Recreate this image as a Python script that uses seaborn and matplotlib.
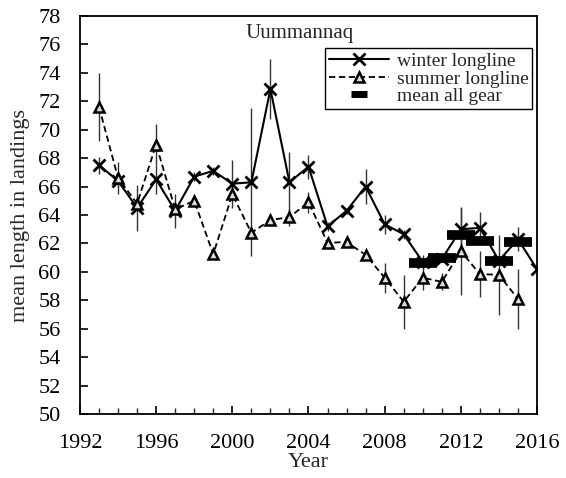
import numpy as np
import pandas as pd
import matplotlib
matplotlib.use("Agg")
import matplotlib.pyplot as plt
import matplotlib.ticker as mticker
import seaborn as sns

# ── Data ────────────────────────────────────────────────
winter_years = list(range(1993, 2017))
winter_mean = [67.5, 66.4, 64.5, 66.5, 64.3, 66.7, 67.1, 66.2, 66.3, 72.85, 66.3, 67.4,
               63.2, 64.3, 66.0, 63.35, 62.65, 60.7, 60.9, 63.0, 63.1, 60.8, 62.3, 60.2]
winter_err = [0.6, 0.4, 1.6, 1.0, 1.2, 0.3, 0.3, 1.7, 5.2, 2.1, 2.1, 0.85,
              0.3, 0.2, 1.2, 0.65, 0.3, 0.5, 0.2, 1.5, 1.1, 0.2, 0.85, 0.0]

summer_years = list(range(1993, 2016))
summer_mean = [71.6, 66.6, 64.8, 68.95, 64.4, 65.0, 61.25, 65.45, 62.75, 63.65, 63.85, 64.9,
               62.05, 62.1, 61.2, 59.6, 57.9, 59.6, 59.3, 61.45, 59.85, 59.8, 58.1]
summer_err = [2.4, 1.1, 0.3, 1.45, 0.3, 0.3, 0.3, 0.3, 0.3, 0.3, 0.6, 0.75,
              0.3, 0.2, 0.3, 1.05, 1.9, 0.9, 0.6, 3.1, 1.6, 2.8, 2.1]

gear_years = [2010, 2011, 2012, 2013, 2014, 2015]
gear_mean = [60.65, 61.0, 62.6, 62.2, 60.8, 62.1]

winter = pd.DataFrame({"year": winter_years, "length": winter_mean, "err": winter_err})
summer = pd.DataFrame({"year": summer_years, "length": summer_mean, "err": summer_err})
gear = pd.DataFrame({"year": gear_years, "length": gear_mean})

# ── Style ───────────────────────────────────────────────
sns.set_style("ticks")
plt.rcParams["font.family"] = ["Liberation Serif", "DejaVu Serif"]
plt.rcParams["xtick.direction"] = "in"
plt.rcParams["ytick.direction"] = "in"

fig = plt.figure(figsize=(5.66, 4.78), dpi=100)
ax = fig.add_axes([0.1413, 0.1333, 0.8075, 0.8337])

# error bars
ax.errorbar(winter["year"], winter["length"], yerr=winter["err"], fmt="none",
            ecolor="#333333", elinewidth=1.0, capsize=0, zorder=1)
ax.errorbar(summer["year"], summer["length"], yerr=summer["err"], fmt="none",
            ecolor="#333333", elinewidth=1.0, capsize=0, zorder=1)

sns.lineplot(data=winter, x="year", y="length", ax=ax, color="black", lw=1.5,
             marker="x", markersize=8, markeredgewidth=2, markeredgecolor="black",
             label="winter longline", zorder=3)
sns.lineplot(data=summer, x="year", y="length", ax=ax, color="black", lw=1.3,
             linestyle=(0, (3.5, 2)), marker="^", markersize=7,
             markerfacecolor="#dddddd", markeredgecolor="black", markeredgewidth=1.8,
             label="summer longline", zorder=3)
ax.plot(gear["year"], gear["length"], linestyle="none", marker="_", markersize=20,
        markeredgewidth=7, color="black", label="mean all gear", zorder=4)

ax.set_xlim(1992, 2016)
ax.set_ylim(50, 78)
ax.xaxis.set_major_locator(mticker.MultipleLocator(4))
ax.xaxis.set_minor_locator(mticker.MultipleLocator(1))
ax.yaxis.set_major_locator(mticker.MultipleLocator(2))
ax.tick_params(axis="both", which="major", length=6, width=1.2, labelsize=16, colors="black")
ax.tick_params(axis="x", which="minor", length=4, width=1.0)
ax.tick_params(axis="x", pad=14)
ax.tick_params(axis="y", pad=14)
for s in ax.spines.values():
    s.set_visible(True)
    s.set_linewidth(1.3)
    s.set_color("black")

ax.set_xlabel("Year", fontsize=16, labelpad=0)
ax.set_ylabel("mean length in landings", fontsize=16, labelpad=6)
ax.text(0.48, 0.955, "Uummannaq", transform=ax.transAxes, ha="center", va="center",
        fontsize=15)

leg = ax.legend(loc="upper right", bbox_to_anchor=(0.99, 0.918), fontsize=14,
                frameon=True, fancybox=False, edgecolor="black", framealpha=1,
                handlelength=3.1, borderpad=0.2, labelspacing=0.0, handletextpad=0.4,
                borderaxespad=0)
leg.get_frame().set_linewidth(1.0)
handles = leg.legend_handles
handles[2].set_markersize(12)
handles[2].set_markeredgewidth(5)

fig.savefig("out.png", dpi=100)
